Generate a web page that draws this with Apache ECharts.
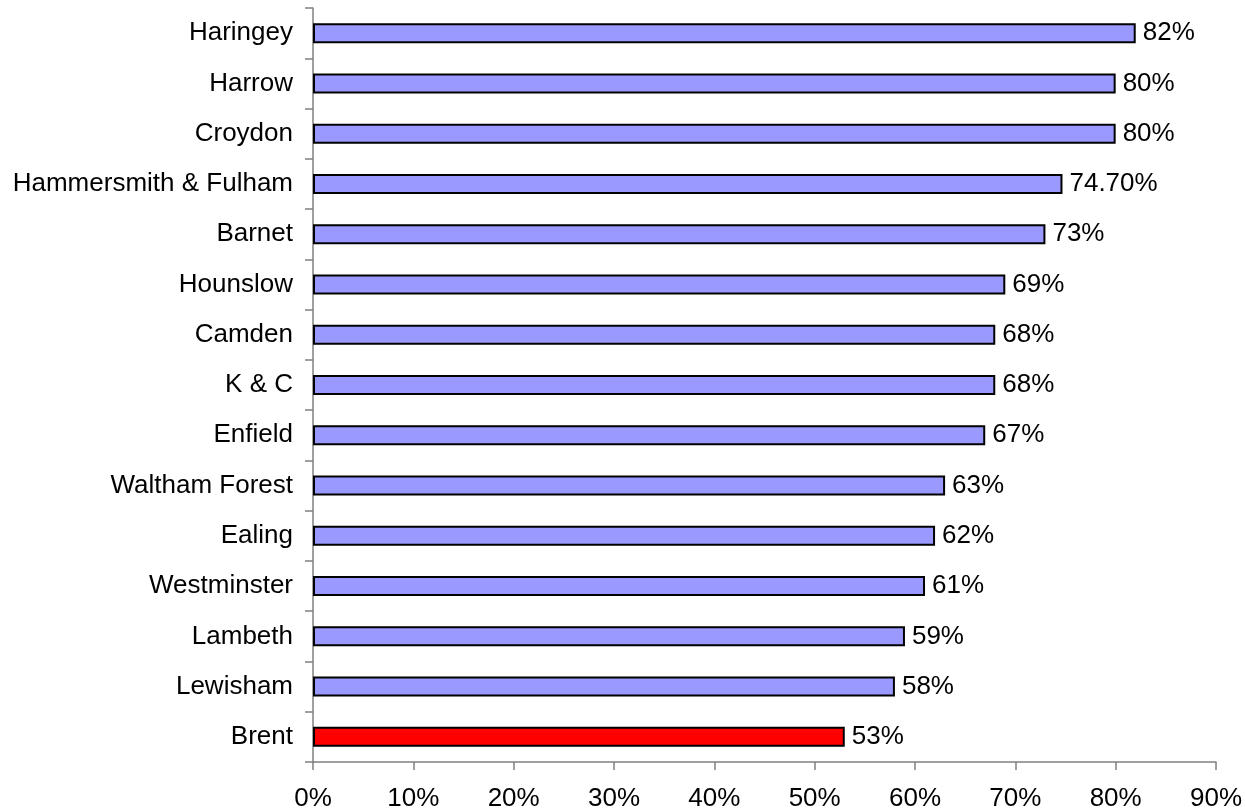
<!DOCTYPE html>
<html>
<head>
<meta charset="utf-8">
<script src="https://cdn.jsdelivr.net/npm/echarts@6/dist/echarts.min.js"></script>
<style>
  html, body { margin: 0; padding: 0; background: #fff; }
  #chart { width: 1245px; height: 812px; }
</style>
</head>
<body>
<div id="chart"></div>
<script>
// boroughs, top to bottom
var boroughs = ["Haringey", "Harrow", "Croydon", "Hammersmith & Fulham", "Barnet", "Hounslow",
  "Camden", "K & C", "Enfield", "Waltham Forest", "Ealing", "Westminster", "Lambeth", "Lewisham", "Brent"];
var values = [82, 80, 80, 74.7, 73, 69, 68, 68, 67, 63, 62, 61, 59, 58, 53];
var valueLabels = ["82%", "80%", "80%", "74.70%", "73%", "69%", "68%", "68%", "67%", "63%", "62%", "61%", "59%", "58%", "53%"];
var highlight = "Brent";

var chart = echarts.init(document.getElementById("chart"));
var font = "Liberation Sans, Arial, sans-serif";

chart.setOption({
  animation: false,
  grid: { left: 313, right: 29, top: 8, bottom: 50 },
  xAxis: {
    type: "value",
    min: 0,
    max: 90,
    interval: 10,
    axisLine: { show: true, lineStyle: { color: "#808080", width: 1.5 } },
    axisTick: { show: true, length: 8, lineStyle: { color: "#808080", width: 1.5 } },
    splitLine: { show: false },
    axisLabel: { color: "#000", fontFamily: font, fontSize: 26, margin: 24, formatter: "{value}%" }
  },
  yAxis: {
    type: "category",
    inverse: true,
    data: boroughs,
    axisLine: { show: true, lineStyle: { color: "#808080", width: 1.5 } },
    axisTick: { show: true, length: 8, lineStyle: { color: "#808080", width: 1.5 } },
    axisLabel: { color: "#000", fontFamily: font, fontSize: 26, margin: 20 }
  },
  series: [{
    type: "bar",
    barWidth: 20,
    data: values.map(function (v, i) {
      return {
        value: v,
        itemStyle: { color: boroughs[i] === highlight ? "#ff0000" : "#9999ff" }
      };
    }),
    itemStyle: { borderColor: "#000", borderWidth: 2 },
    label: {
      show: true,
      position: "right",
      distance: 7,
      color: "#000",
      fontFamily: font,
      fontSize: 26,
      formatter: function (p) { return valueLabels[p.dataIndex]; }
    }
  }]
});
</script>
</body>
</html>
